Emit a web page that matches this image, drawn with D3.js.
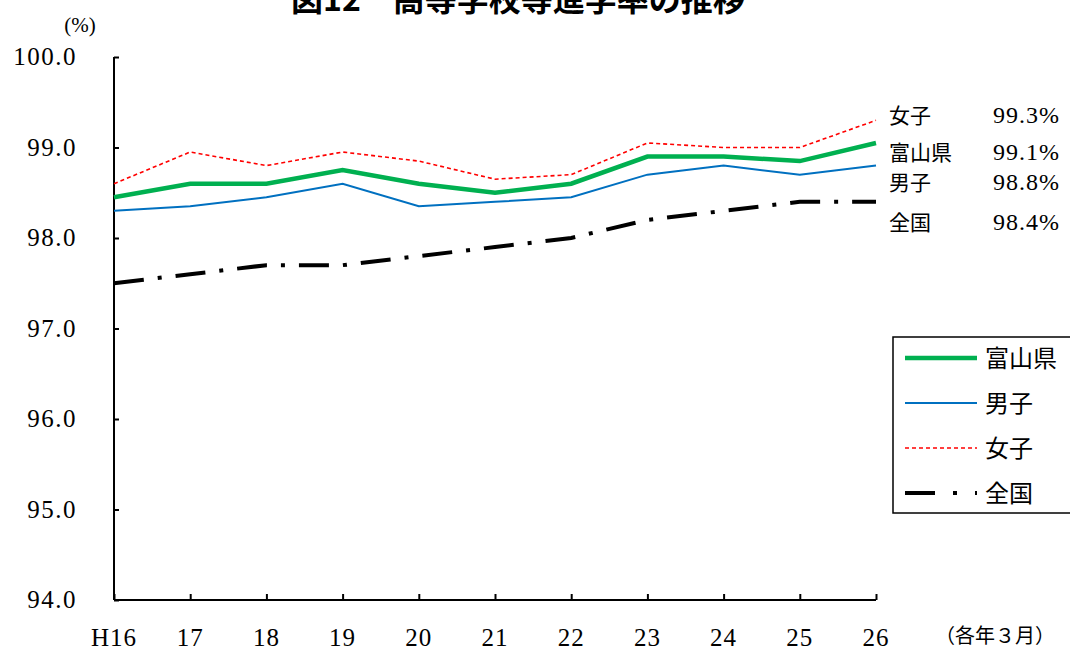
<!DOCTYPE html>
<html>
<head>
<meta charset="utf-8">
<script src="https://cdn.jsdelivr.net/npm/d3@7"></script>
<style>
  body { margin: 0; background: #fff; }
  svg { display: block; }
</style>
</head>
<body>
<svg id="chart" width="1070" height="651"></svg>
<script>
var years = ["H16", "17", "18", "19", "20", "21", "22", "23", "24", "25", "26"];
var toyama = [98.45, 98.6, 98.6, 98.75, 98.6, 98.5, 98.6, 98.9, 98.9, 98.85, 99.05];
var boys = [98.3, 98.35, 98.45, 98.6, 98.35, 98.4, 98.45, 98.7, 98.8, 98.7, 98.8];
var girls = [98.6, 98.95, 98.8, 98.95, 98.85, 98.65, 98.7, 99.05, 99.0, 99.0, 99.3];
var national = [97.5, 97.6, 97.7, 97.7, 97.8, 97.9, 98.0, 98.2, 98.3, 98.4, 98.4];
var yTicks = [94, 95, 96, 97, 98, 99, 100];

var series = [
    { name: "富山県", values: toyama, color: "#00b050", width: 4.5, dash: null },
    { name: "男子", values: boys, color: "#0070c0", width: 2, dash: null },
    { name: "女子", values: girls, color: "#ff0000", width: 1.6, dash: "4,3" },
    { name: "全国", values: national, color: "#000000", width: 4, dash: "30,14,4,14" }
];
var endLabels = [
    { name: "女子", value: "99.3%", y: 115 },
    { name: "富山県", value: "99.1%", y: 152 },
    { name: "男子", value: "98.8%", y: 182 },
    { name: "全国", value: "98.4%", y: 222 }
];

var plotLeft = 114, plotRight = 876, plotTop = 57, plotBottom = 600;
var serif = "'Liberation Serif', 'DejaVu Serif', serif";
var jp = "'Noto Sans CJK JP', sans-serif";

var svg = d3.select("#chart");

var x = d3.scalePoint().domain(years).range([plotLeft, plotRight]);
var y = d3.scaleLinear().domain([94, 100]).range([plotBottom, plotTop]);

// title (top is cut off like in the source)
svg.append("text")
    .text("図12　高等学校等進学率の推移")
    .attr("x", 518)
    .attr("y", 11)
    .attr("text-anchor", "middle")
    .attr("font-family", jp)
    .attr("font-weight", "bold")
    .attr("font-size", 32);

svg.append("text")
    .text("(%)")
    .attr("x", 80)
    .attr("y", 32)
    .attr("text-anchor", "middle")
    .attr("font-family", serif)
    .attr("font-size", 21);

// axes
var yAxis = d3.axisRight(y).tickValues(yTicks).tickSize(5).tickFormat("");
svg.append("g")
    .attr("transform", "translate(" + plotLeft + ",0)")
    .call(yAxis)
    .call(function(g) {
        g.select(".domain").attr("d", "M0," + plotTop + "V" + plotBottom).attr("stroke-width", 2);
        g.selectAll(".tick line").attr("stroke-width", 2);
    });

var xAxis = d3.axisTop(x).tickSize(6).tickFormat("");
svg.append("g")
    .attr("transform", "translate(0," + plotBottom + ")")
    .call(xAxis)
    .call(function(g) {
        g.select(".domain").attr("d", "M" + plotLeft + ",0H" + plotRight).attr("stroke-width", 2);
        g.selectAll(".tick line").attr("stroke-width", 2);
    });

svg.selectAll(".ylab")
    .data(yTicks)
    .enter().append("text")
    .attr("class", "ylab")
    .text(function(d) { return d.toFixed(1); })
    .attr("x", 77)
    .attr("y", function(d) { return y(d) + 8; })
    .attr("text-anchor", "end")
    .attr("font-family", serif)
    .attr("font-size", 25)
    .attr("letter-spacing", 1.5);

svg.selectAll(".xlab")
    .data(years)
    .enter().append("text")
    .attr("class", "xlab")
    .text(function(d) { return d; })
    .attr("x", function(d) { return x(d); })
    .attr("y", 646)
    .attr("text-anchor", "middle")
    .attr("font-family", serif)
    .attr("font-size", 25)
    .attr("letter-spacing", 1);

svg.append("text")
    .text("（各年３月）")
    .attr("x", 995)
    .attr("y", 643)
    .attr("text-anchor", "middle")
    .attr("font-family", jp)
    .attr("font-size", 20);

// lines, drawn bottom-most first
var line = d3.line()
    .x(function(d, i) { return x(years[i]); })
    .y(function(d) { return y(d); });

series.slice().reverse().forEach(function(s) {
    svg.append("path")
        .attr("d", line(s.values))
        .attr("fill", "none")
        .attr("stroke", s.color)
        .attr("stroke-width", s.width)
        .attr("stroke-dasharray", s.dash);
});

// end labels
endLabels.forEach(function(l) {
    svg.append("text")
        .text(l.name)
        .attr("x", 889)
        .attr("y", l.y + 8)
        .attr("font-family", jp)
        .attr("font-size", 21);
    svg.append("text")
        .text(l.value)
        .attr("x", 1060)
        .attr("y", l.y + 8)
        .attr("text-anchor", "end")
        .attr("font-family", serif)
        .attr("font-size", 24)
        .attr("letter-spacing", 1);
});

// legend
var legend = svg.append("g");
legend.append("rect")
    .attr("x", 893)
    .attr("y", 337)
    .attr("width", 200)
    .attr("height", 176)
    .attr("fill", "#fff")
    .attr("stroke", "#000")
    .attr("stroke-width", 1.5);

series.forEach(function(s, i) {
    var ly = 358 + i * 45;
    legend.append("line")
        .attr("x1", 905)
        .attr("x2", 977)
        .attr("y1", ly)
        .attr("y2", ly)
        .attr("stroke", s.color)
        .attr("stroke-width", s.width)
        .attr("stroke-dasharray", s.name == "全国" ? "30,18,4,18" : s.dash);
    legend.append("text")
        .text(s.name)
        .attr("x", 985)
        .attr("y", ly + 9)
        .attr("font-family", jp)
        .attr("font-size", 24);
});
</script>
</body>
</html>
